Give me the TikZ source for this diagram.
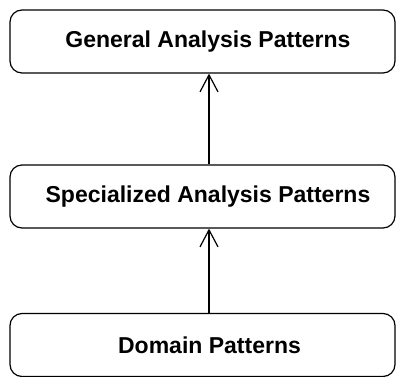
\documentclass[tikz,border=0pt]{standalone}
\usepackage{fontspec}
\setmainfont{Liberation Sans}
\usetikzlibrary{arrows.meta}
\begin{document}
\begin{tikzpicture}[x=1pt,y=-1pt,
  pbox/.style={draw, line width=1.2pt, rounded corners=12pt, minimum width=385pt, minimum height=63pt, inner sep=0pt, font=\fontsize{23}{28}\selectfont\bfseries},
  gen/.style={-{Straight Barb[length=17pt,width=18pt,line width=1.2pt]}, line width=1.2pt}]
\useasboundingbox (0,0) rectangle (396,377);
\node[pbox] (g) at (202.5,41.5) {\hspace*{11pt}General Analysis Patterns};
\node[pbox] (s) at (202.5,196.5) {\hspace*{11pt}Specialized Analysis Patterns};
\node[pbox] (d) at (202.5,345) {\hspace*{14pt}Domain Patterns};
\draw[gen] (d.north -| 209,0) -- (s.south -| 209,0);
\draw[gen] (s.north -| 209,0) -- (g.south -| 209,0);
\end{tikzpicture}
\end{document}
